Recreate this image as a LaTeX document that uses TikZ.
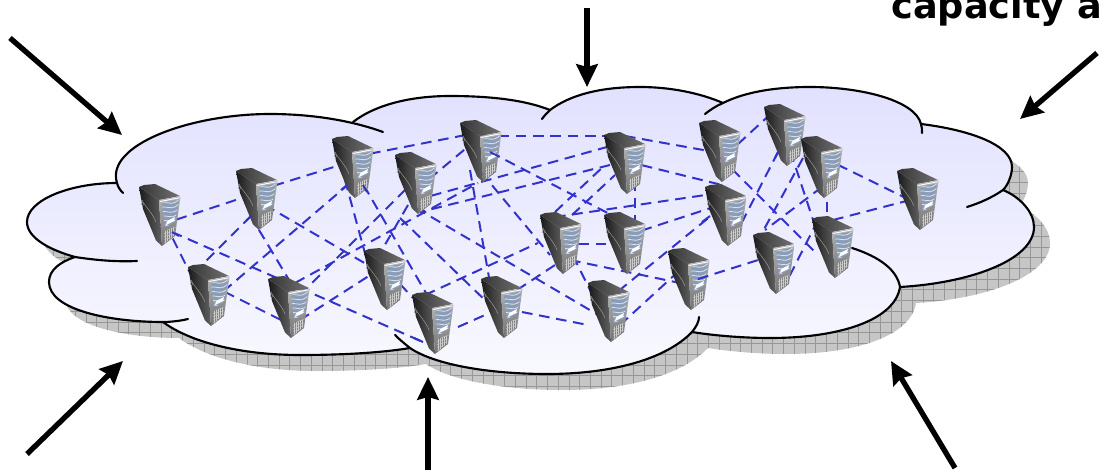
\documentclass[tikz,border=0pt]{standalone}
\usepackage{fontspec}
\setmainfont{DejaVu Sans}
\usetikzlibrary{arrows.meta,calc}
\definecolor{cloudtop}{HTML}{DDDDFF}
\definecolor{netblue}{HTML}{3333CC}
\definecolor{shadowfill}{HTML}{C6C6C6}
\definecolor{shadowgrid}{HTML}{979797}
\definecolor{panelblue}{HTML}{8A9CB8}
\pgfdeclareverticalshading{cloudsh}{100bp}{color(0bp)=(white); color(12bp)=(white); color(84bp)=(cloudtop); color(100bp)=(cloudtop)}
\newcommand{\cloudpath}{(117,183)
 .. controls (105,145) and (190,114) .. (270,114) .. controls (300,114) and (330,117) .. (353,122)
 .. controls (375,105) and (410,96) .. (450,96) .. controls (490,96) and (525,100) .. (550,110)
 .. controls (570,95) and (600,87) .. (640,87) .. controls (670,87) and (700,93) .. (723,103)
 .. controls (745,92) and (775,87) .. (810,87) .. controls (860,87) and (915,100) .. (921,124)
 .. controls (970,130) and (1012,145) .. (1012,167) .. controls (1012,175) and (1008,185) .. (1003,190)
 .. controls (1020,197) and (1034,212) .. (1034,227) .. controls (1034,260) and (970,283) .. (900,287)
 .. controls (895,320) and (840,338) .. (770,338) .. controls (740,338) and (710,335) .. (692,332)
 .. controls (665,360) and (610,374) .. (547,374) .. controls (490,374) and (435,365) .. (410,348)
 .. controls (380,353) and (340,355) .. (300,355) .. controls (240,355) and (190,342) .. (163,322)
 .. controls (110,322) and (49,310) .. (49,282) .. controls (49,270) and (60,262) .. (75,257)
 .. controls (50,250) and (27,238) .. (27,222) .. controls (27,200) and (70,183) .. (117,183) -- cycle}
\newcommand{\lnk}[6]{\draw[netline] ($(#1)+(#2,#3)$) -- ($(#4)+(#5,#6)$);}
\tikzset{
 x=0.75pt,y=-0.75pt,
 netline/.style={netblue,line width=1.5pt,dash pattern=on 8pt off 5pt},
 cloudline/.style={black,line width=1.6pt,line cap=round},
 bigarrow/.style={-{Stealth[length=17pt,width=16pt,inset=2pt]},line width=4pt,black},
 srv/.style={inner sep=0pt,minimum width=31.5pt,minimum height=46.5pt},
 serverpic/.pic={
  \begin{scope}[shift={(-22,-31)}]
   \shade[left color=black!90,right color=black!62] (1,3) -- (21,16) -- (24,62) -- (18,56.5) -- (5,25) -- cycle;
   \shade[left color=black!80,right color=black!55] (1,3) -- (6,1) -- (17,0) -- (42,12) -- (21,16) -- cycle;
   \shade[top color=black!30,bottom color=black!55] (21,16) -- (42.5,12.5) -- (37,52) -- (24,62) -- cycle;
   \begin{scope}
    \clip (24,19) -- (41,15.5) -- (37,38) -- (27,43) -- cycle;
    \fill[panelblue] (20,10) rectangle (45,48);
    \foreach \k in {0,...,6}{
     \draw[white!70!panelblue,line width=.6pt] (22,{20+\k*4.5}) .. controls (28,{15+\k*4.5}) and (34,{25+\k*4.5}) .. (43,{13+\k*4.5});
    }
    \fill[white] (28,41) -- (36,37) -- (37,33) -- (29,37) -- cycle;
   \end{scope}
   \draw[white,line width=.7pt] (22,17.5) -- (41.5,13.8);
   \begin{scope}
    \clip (26,47.5) -- (37.5,42.5) -- (36,51.5) -- (26.5,59.5) -- cycle;
    \fill[black!50] (24,40) rectangle (40,62);
    \foreach \k in {0,...,6}{
     \draw[black!20,line width=.35pt] ({25+\k*2},42) -- ({25+\k*2},62);
     \draw[black!20,line width=.35pt] (24,{44+\k*3}) -- (40,{40+\k*3});
    }
   \end{scope}
   \draw[black!35,line width=.3pt] (4,16) .. controls (8,24) and (14,28) .. (18,38);
   \draw[black!45,line width=.3pt] (4.5,20) circle (1.3);
  \end{scope}
 }
}
\begin{document}
\begin{tikzpicture}
\useasboundingbox (0,0) rectangle (1099,474);
% shadow
\begin{scope}[shift={(16,16)}]
 \fill[shadowfill] \cloudpath;
 \clip \cloudpath;
 \draw[shadowgrid,line width=.55pt,step=8.05pt,shift={(-16,-16)}] (0,0) grid (1099,474);
\end{scope}
% cloud
\shade[shading=cloudsh] \cloudpath;
\draw[cloudline] (123,193) .. controls (120,190) and (118,187) .. (117,183)
 .. controls (105,145) and (190,114) .. (270,114) .. controls (310,114) and (350,120) .. (383,132);
\draw[cloudline] (353,122) .. controls (375,105) and (410,96) .. (450,96) .. controls (490,96) and (525,100) .. (550,110);
\draw[cloudline] (542,119) .. controls (544,116) and (547,113) .. (550,110)
 .. controls (570,95) and (600,87) .. (640,87) .. controls (670,87) and (700,93) .. (723,103);
\draw[cloudline] (705,114) .. controls (710,110) and (716,106) .. (723,103)
 .. controls (745,92) and (775,87) .. (810,87) .. controls (860,87) and (915,100) .. (921,124) .. controls (922,127) and (922,130) .. (922,133);
\draw[cloudline] (921,124) .. controls (970,130) and (1012,145) .. (1012,167) .. controls (1012,175) and (1008,185) .. (1003,190) .. controls (993,197) and (980,203) .. (967,207);
\draw[cloudline] (1003,190) .. controls (1020,197) and (1034,212) .. (1034,227) .. controls (1034,260) and (970,283) .. (900,287);
\draw[cloudline] (852,248) .. controls (880,257) and (897,270) .. (900,287)
 .. controls (895,320) and (840,338) .. (770,338) .. controls (740,338) and (710,335) .. (692,332);
\draw[cloudline] (699,317) .. controls (699,322) and (696,327) .. (692,332)
 .. controls (665,360) and (610,374) .. (547,374) .. controls (490,374) and (435,365) .. (410,348) .. controls (405,344) and (400,340) .. (395,335);
\draw[cloudline] (410,348) .. controls (380,353) and (340,355) .. (300,355) .. controls (240,355) and (190,342) .. (163,322);
\draw[cloudline] (188,319) .. controls (180,321) and (170,322) .. (163,322)
 .. controls (110,322) and (49,310) .. (49,282) .. controls (49,270) and (60,262) .. (75,257);
\draw[cloudline] (137,261) .. controls (115,262) and (95,260) .. (75,257)
 .. controls (50,250) and (27,238) .. (27,222) .. controls (27,200) and (70,183) .. (117,183);
% server anchors
\foreach \n/\p in {s1/{160,215},s2/{257,199},s3/{353,167},s4/{416,183},s5/{481,151},s6/{625,163},s7/{720,151},s8/{785,135},s9/{822,167},s10/{918,199},s11/{209,295},s12/{289,307},s13/{385,279},s14/{433,323},s15/{502,307},s16/{561,243},s17/{625,243},s18/{609,311},s19/{689,279},s20/{726,215},s21/{774,263},s22/{833,247}}{
 \node[srv] (\n) at (\p) {};
}
% links
\lnk{s1}{0}{10}{s2}{0}{-6}
\lnk{s2}{0}{-8}{s3}{0}{-6}
\lnk{s3}{0}{-10}{s5}{0}{-19}
\lnk{s5}{0}{-15}{s6}{0}{-27}
\lnk{s6}{0}{-27}{s7}{0}{2}
\lnk{s7}{5}{5}{s8}{-10}{-25}
\lnk{s9}{0}{-10}{s10}{0}{5}
\lnk{s22}{0}{-27}{s10}{0}{-1}
\lnk{s9}{5}{0}{s22}{-6}{0}
\lnk{s8}{0}{0}{s22}{-11}{0}
\lnk{s8}{-7}{17}{s20}{12}{15}
\lnk{s9}{-19}{-9}{s21}{-12}{-30}
\lnk{s9}{0}{20}{s21}{-9}{-33}
\lnk{s7}{0}{6}{s22}{-18}{5}
\lnk{s22}{-15}{-27}{s21}{11}{22}
\lnk{s19}{9}{0}{s21}{0}{-8}
\lnk{s6}{0}{-2}{s20}{0}{-29}
\lnk{s16}{-6}{-26}{s20}{0}{-23}
\lnk{s6}{10}{0}{s17}{10}{0}
\lnk{s17}{0}{-7}{s20}{0}{-12}
\lnk{s18}{-4}{-9}{s20}{-14}{0}
\lnk{s18}{11}{14}{s19}{-9}{-9}
\lnk{s16}{9}{17}{s19}{-9}{4}
\lnk{s16}{0}{1}{s17}{0}{1}
\lnk{s16}{4}{-3}{s18}{-9}{-1}
\lnk{s5}{9}{1}{s17}{0}{-21}
\lnk{s5}{0}{21}{s16}{-11}{12}
\lnk{s5}{-11}{19}{s15}{-9}{-7}
\lnk{s4}{0}{7}{s5}{-11}{-6}
\lnk{s6}{-15}{2}{s4}{4}{29}
\lnk{s6}{0}{-21}{s4}{0}{17}
\lnk{s3}{-3}{16}{s11}{16}{-5}
\lnk{s2}{-7}{16}{s12}{6}{-17}
\lnk{s2}{8}{6}{s13}{0}{-4}
\lnk{s3}{2}{3}{s14}{-3}{-23}
\lnk{s12}{6}{-24}{s5}{-3}{32}
\lnk{s12}{11}{-12}{s4}{-11}{7}
\lnk{s12}{11}{13}{s13}{-10}{-7}
\lnk{s11}{0}{-11}{s12}{0}{17}
\lnk{s3}{-8}{13}{s13}{-13}{0}
\lnk{s1}{5}{8}{s11}{-14}{-12}
\lnk{s2}{-6}{17}{s11}{-9}{-28}
\lnk{s1}{12}{17}{s14}{-10}{19}
\lnk{s4}{0}{25}{s18}{-9}{5}
\lnk{s4}{-16}{35}{s15}{-12}{-2}
\lnk{s4}{-8}{22}{s13}{-10}{-17}
\lnk{s14}{-8}{-28}{s16}{-23}{0}
\lnk{s14}{25}{4}{s15}{-17}{8}
\lnk{s15}{15}{-17}{s16}{-6}{22}
\lnk{s15}{20}{5}{s18}{-21}{14}
\lnk{s13}{15}{5}{s14}{-20}{-25}
\lnk{s16}{-6}{-31}{s6}{-20}{2}
\lnk{s16}{11}{-28}{s6}{-10}{12}
% servers
\foreach \n in {s1,s2,s3,s4,s5,s6,s7,s8,s9,s10,s11,s12,s13,s14,s15,s16,s17,s18,s19,s20,s21,s22}{
 \pic at (\n) {serverpic};
}
% link ends showing over the servers
\lnk{s1}{12}{17}{s1}{19}{21}
\lnk{s2}{-6}{17}{s2}{-11}{22}
\lnk{s3}{-6}{18}{s3}{-12}{23}
\lnk{s3}{10}{18}{s3}{14}{25}
\lnk{s5}{9}{1}{s5}{19}{6}
\lnk{s8}{-7}{17}{s8}{-10}{23}
\lnk{s19}{9}{0}{s19}{19}{-3}
\lnk{s20}{-16}{1}{s20}{-24}{7}
\lnk{s14}{-19}{15}{s14}{-10}{19}
% arrows
\coordinate (a1s) at (10,38);   \coordinate (a1e) at (122,135);
\coordinate (a2s) at (587,8);   \coordinate (a2e) at (587,87);
\coordinate (a3s) at (1097,53); \coordinate (a3e) at (1020,119);
\coordinate (a4s) at (27,454);  \coordinate (a4e) at (123,361);
\coordinate (a5s) at (428,470); \coordinate (a5e) at (428,377);
\coordinate (a6s) at (955,468); \coordinate (a6e) at (891,361);
\draw[bigarrow] (a1s) -- (a1e);
\draw[bigarrow] (a2s) -- (a2e);
\draw[bigarrow] (a3s) -- (a3e);
\draw[bigarrow] (a4s) -- (a4e);
\draw[bigarrow] (a5s) -- (a5e);
\draw[bigarrow] (a6s) -- (a6e);
\node[anchor=base west,inner sep=0pt,font=\bfseries\fontsize{27.5pt}{30pt}\selectfont] (cap) at (891,18.5) {capacity a};
\end{tikzpicture}
\end{document}
